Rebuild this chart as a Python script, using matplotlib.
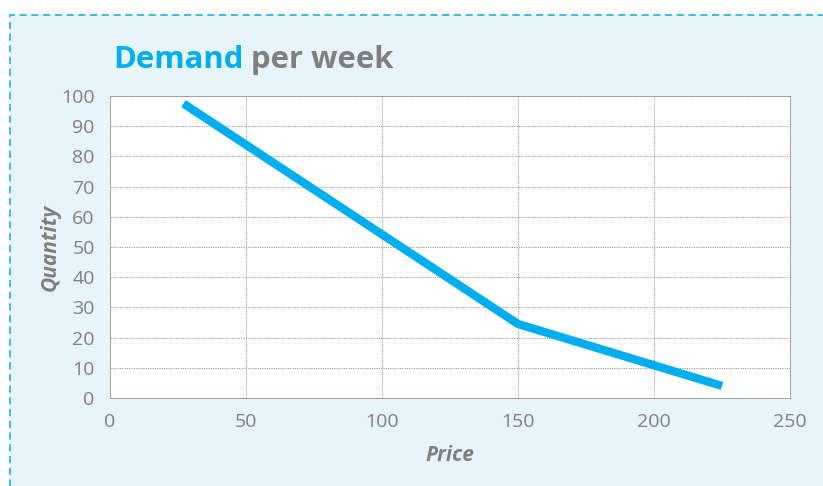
import matplotlib.pyplot as plt
from matplotlib.patches import Rectangle

plt.rcParams['font.family'] = ['Open Sans', 'DejaVu Sans']

# data
price = [27, 150, 225]
quantity = [97.5, 24.5, 4]
x_ticks = [0, 50, 100, 150, 200, 250]
y_ticks = [0, 10, 20, 30, 40, 50, 60, 70, 80, 90, 100]

blue = '#00AEEF'
grey = '#7F7F7F'

fig = plt.figure(figsize=(8.23, 4.86), dpi=100)
fig.patch.set_facecolor('white')

# light blue panel with dashed border
panel = Rectangle((10 / 823, -0.05), 1.0, 1 - 15 / 486 + 0.05, transform=fig.transFigure,
                  facecolor='#E8F4FB', edgecolor='#2BB5EC', linestyle=(0, (4, 2.5)),
                  linewidth=1.3, zorder=-10)
fig.patches.append(panel)

ax = fig.add_axes([110 / 823, 1 - 398 / 486, (790 - 110) / 823, (398 - 96) / 486])
ax.set_zorder(5)
ax.set_facecolor('white')

ax.plot(price, quantity, color=blue, linewidth=6, solid_capstyle='butt', solid_joinstyle='miter')

ax.set_xlim(0, 250)
ax.set_ylim(0, 100)
ax.set_xticks(x_ticks)
ax.set_yticks(y_ticks)
ax.tick_params(length=0, labelsize=14, labelcolor=grey)
ax.tick_params(axis='x', pad=11)
ax.tick_params(axis='y', pad=11)
ax.grid(True, linestyle=(0, (1.2, 1.2)), color='#999999', linewidth=0.7)
for s in ax.spines.values():
    s.set_linestyle((0, (1.2, 1.2)))
    s.set_color('#999999')
    s.set_linewidth(0.7)

ax.set_xlabel('Price', fontsize=15, fontweight='bold', fontstyle='italic', color=grey, labelpad=10)
ax.set_ylabel('Quantity', fontsize=15, fontweight='bold', fontstyle='italic', color=grey, labelpad=0)

# two-coloured title
t1 = fig.text(113 / 823, 1 - 68 / 486, 'Demand', fontsize=22.3, fontweight='bold', color=blue)
fig.canvas.draw()
bb = t1.get_window_extent()
fig.text(bb.x1 / 823 + 0.009, 1 - 68 / 486, 'per week', fontsize=22.3, fontweight='bold', color=grey)

plt.savefig('out.png', dpi=100)
